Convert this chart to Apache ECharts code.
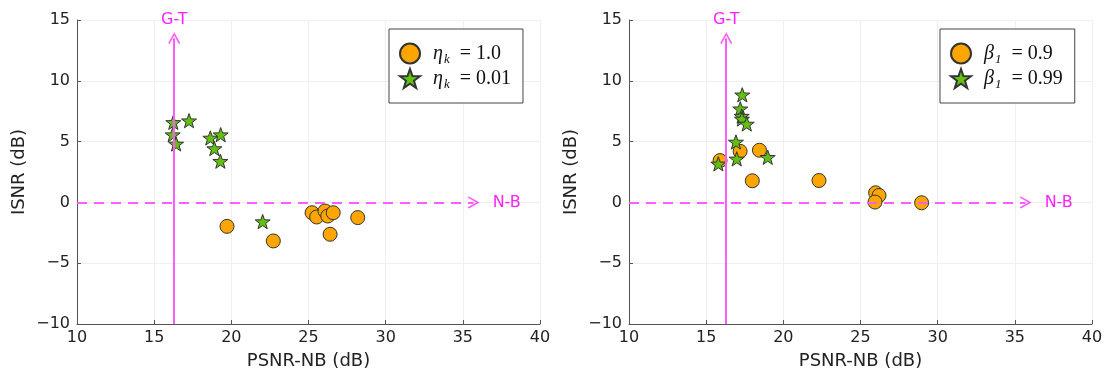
<!DOCTYPE html>
<html><head><meta charset="utf-8">
<script src="https://cdn.jsdelivr.net/npm/echarts@6/dist/echarts.min.js"></script>
<style>html,body{margin:0;padding:0;background:#fff}#c{width:1104px;height:370px}</style>
</head><body><div id="c"></div>
<script>
const xMin = 10, xMax = 40, xInterval = 5;
const yMin = -10, yMax = 15, yInterval = 5;
const xLabel = 'PSNR-NB (dB)';
const yLabel = 'ISNR (dB)';
// left panel
const etaOne = [[19.72,-1.97],[22.72,-3.17],[25.23,-0.85],[25.53,-1.2],[26.07,-0.71],[26.25,-1.12],[26.6,-0.85],[26.4,-2.62],[28.19,-1.25]];
const etaSmall = [[16.24,6.58],[17.26,6.72],[16.2,5.57],[16.42,4.81],[18.64,5.30],[19.31,5.57],[18.9,4.43],[19.29,3.39],[22.03,-1.58]];
// right panel
const betaLow = [[15.9,3.44],[17.2,4.2],[18.45,4.29],[17.99,1.78],[22.31,1.8],[25.98,0.79],[26.2,0.57],[25.94,0.03],[28.96,-0.03]];
const betaHigh = [[17.34,8.85],[17.21,7.7],[17.3,7.1],[17.32,6.86],[17.63,6.45],[16.93,4.97],[16.98,3.58],[15.79,3.17],[18.99,3.71]];
// reference lines
const gtX = 16.3, gtTop = 13.5, nbY = 0, nbEnd = 35.7;
const gtText = 'G-T', nbText = 'N-B';

const starPath = 'path://M0,-100 L23.5,-32.4 L95.1,-30.9 L38,12.4 L58.8,80.9 L0,40 L-58.8,80.9 L-38,12.4 L-95.1,-30.9 L-23.5,-32.4Z';
const chevron = 'path://M0,0 L7,9 L5.6,10 L0,2.8 L-5.6,10 L-7,9 Z';
const orange = '#FFA500', green = '#62C010', magenta = '#FF5CFF', magText = '#FF22FF';
const minus = v => String(v).replace('-', '\u2212');
const axisColor = '#555', txt = '#222';

function axisPair(idx){
  return {
    x: {type:'value', gridIndex:idx, min:xMin, max:xMax, interval:xInterval,
      name:xLabel, nameLocation:'middle', nameGap:28,
      nameTextStyle:{fontFamily:'DejaVu Sans', fontSize:18, color:txt},
      axisLine:{onZero:false, lineStyle:{color:axisColor, width:1}},
      axisTick:{show:true, inside:true, length:4, lineStyle:{color:axisColor}},
      axisLabel:{fontFamily:'DejaVu Sans', fontSize:16, color:txt, margin:6, formatter:minus},
      splitLine:{show:true, lineStyle:{color:'#efefef', width:1}}},
    y: {type:'value', gridIndex:idx, min:yMin, max:yMax, interval:yInterval,
      name:yLabel, nameLocation:'middle', nameGap:49,
      nameTextStyle:{fontFamily:'DejaVu Sans', fontSize:18, color:txt},
      axisLine:{show:true, onZero:false, lineStyle:{color:axisColor, width:1}},
      axisTick:{show:true, inside:true, length:4, lineStyle:{color:axisColor}},
      axisLabel:{fontFamily:'DejaVu Sans', fontSize:16, color:txt, margin:7, formatter:minus},
      splitLine:{show:true, lineStyle:{color:'#efefef', width:1}}}
  };
}
const a0 = axisPair(0), a1 = axisPair(1);

function refLines(idx){
  return {type:'scatter', name:'ref'+idx, xAxisIndex:idx, yAxisIndex:idx, data:[], z:1, silent:true,
    markLine:{silent:true, animation:false, symbol:['none', chevron], symbolSize:[12,12],
      lineStyle:{color:magenta, width:2},
      data:[
        [{coord:[gtX,yMin], lineStyle:{type:'solid', color:magenta, width:2},
          label:{show:true, position:'end', formatter:gtText, color:magText, fontFamily:'DejaVu Sans', fontSize:16, distance:10}},
         {coord:[gtX,gtTop]}],
        [{coord:[xMin,nbY], lineStyle:{type:[10,7], color:magenta, width:2},
          label:{show:true, position:'end', formatter:nbText, color:magText, fontFamily:'DejaVu Sans', fontSize:16, distance:19}},
         {coord:[nbEnd,nbY]}]
      ]}};
}
function circles(name, idx, data){
  return {type:'scatter', name, xAxisIndex:idx, yAxisIndex:idx, data, z:3, symbol:'circle', symbolSize:14,
    itemStyle:{color:orange, borderColor:'#333', borderWidth:1, opacity:1}, animation:false};
}
function stars(name, idx, data){
  return {type:'scatter', name, xAxisIndex:idx, yAxisIndex:idx, data, z:4, symbol:starPath, symbolSize:15,
    symbolKeepAspect:true,
    itemStyle:{color:green, borderColor:'#333', borderWidth:1, opacity:1}, animation:false};
}
const rich = {
  g:{fontFamily:'Liberation Serif', fontStyle:'italic', fontSize:20, color:'#111', lineHeight:22, padding:[0,0,0,8]},
  s:{fontFamily:'Liberation Serif', fontStyle:'italic', fontSize:13, color:'#111', lineHeight:22, padding:[12,0,0,1]},
  t:{fontFamily:'Liberation Serif', fontSize:20, color:'#111', lineHeight:22}
};
const labels = {
  'eta1': '{g|η}{s|k}{t|  = 1.0}',
  'eta2': '{g|η}{s|k}{t|  = 0.01}',
  'beta1': '{g|β}{s|1}{t|  = 0.9}',
  'beta2': '{g|β}{s|1}{t|  = 0.99}'
};
function legend(names, left){
  return {show:true, orient:'vertical', left, top:29, data:names, itemWidth:20, itemHeight:20, itemGap:0,
    padding:[12,12,12,10], borderColor:'#444', borderWidth:1, backgroundColor:'#fff',
    formatter: n => labels[n], textStyle:{rich}, selectedMode:false};
}

const chart = echarts.init(document.getElementById('c'));
chart.setOption({
  animation:false,
  backgroundColor:'#fff',
  grid:[{left:77, top:20, width:463, height:304, outerBoundsMode:'none', containLabel:false},
        {left:629, top:20, width:463, height:304, outerBoundsMode:'none', containLabel:false}],
  xAxis:[a0.x, a1.x],
  yAxis:[a0.y, a1.y],
  legend:[legend(['eta1','eta2'], 389), legend(['beta1','beta2'], 940)],
  series:[refLines(0), refLines(1),
    circles('eta1',0,etaOne), stars('eta2',0,etaSmall),
    circles('beta1',1,betaLow), stars('beta2',1,betaHigh)]
});
</script></body></html>
